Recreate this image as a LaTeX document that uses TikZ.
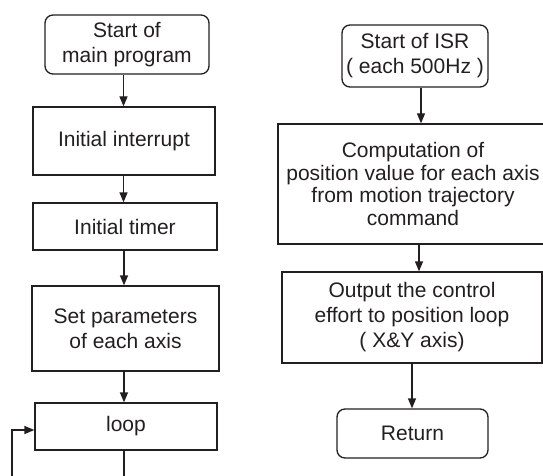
\documentclass[tikz,border=0pt]{standalone}
\usepackage{fontspec}
\setmainfont{Liberation Sans}
\usetikzlibrary{arrows.meta}
\definecolor{ink}{HTML}{231F20}
\tikzset{
  box/.style={draw=ink, line width=1.3pt, text=ink, inner sep=0pt, align=center,
    font=\fontsize{21}{25}\selectfont},
  rbox/.style={box, rounded corners=8pt},
  arr/.style={draw=ink, line width=1.3pt, -{Triangle[length=10pt,width=8pt]}},
  ln/.style={draw=ink, line width=1.3pt}
}
\begin{document}
\begin{tikzpicture}[x=1pt,y=-1pt]
\path[use as bounding box, fill=white] (0,0) rectangle (543,476);
% left column
\node[rbox, minimum width=164pt, minimum height=59pt] (start) at (127,44.5) {Start of\\main program};
\node[box, minimum width=182pt, minimum height=68pt] (intr) at (124,141) {Initial interrupt};
\node[box, minimum width=184pt, minimum height=47pt] (timer) at (125,226.5) {Initial timer};
\node[box, minimum width=187pt, minimum height=85pt] (setp) at (125.5,328.5) {Set parameters\\of each axis};
\node[box, minimum width=182pt, minimum height=47pt] (loop) at (126,426.5) {loop};
\coordinate (lout) at (124,482);
\coordinate (lin) at (12,482);
\draw[arr] ([xshift=-3.5pt]start.south) -- ([xshift=-3.5pt]start.south |- intr.north);
\draw[arr] ([xshift=-0.5pt]intr.south) -- ([xshift=-0.5pt]intr.south |- timer.north);
\draw[arr] ([xshift=-1pt]timer.south) -- ([xshift=-1pt]timer.south |- setp.north);
\draw[arr] ([xshift=-1.5pt]setp.south) -- ([xshift=-1.5pt]setp.south |- loop.north);
\draw[ln] ([xshift=-2pt]loop.south) -- ([xshift=-2pt]loop.south |- lout);
\draw[arr] (lin) -- ([yshift=-3.5pt]lin |- loop.west) -- ([yshift=-3.5pt]loop.west);
% right column
\node[rbox, minimum width=146pt, minimum height=62pt] (isr) at (415,56) {Start of ISR\\( each 500Hz )};
\node[box, minimum width=270pt, minimum height=120pt, font=\fontsize{21}{22.5}\selectfont] (comp) at (413,184)
  {Computation of\\position value for each axis\\from motion trajectory\\command};
\node[box, minimum width=260pt, minimum height=91pt] (out) at (412,317.5)
  {Output the control\\effort to position loop\\( X\&Y axis)};
\node[rbox, minimum width=151pt, minimum height=49pt] (ret) at (412.5,433.5) {Return};
\draw[arr] ([xshift=6pt]isr.south) -- ([xshift=6pt]isr.south |- comp.north);
\draw[arr] ([xshift=6pt]comp.south) -- ([xshift=6pt]comp.south |- out.north);
\draw[arr] (out.south) -- (out.south |- ret.north);
\end{tikzpicture}
\end{document}
